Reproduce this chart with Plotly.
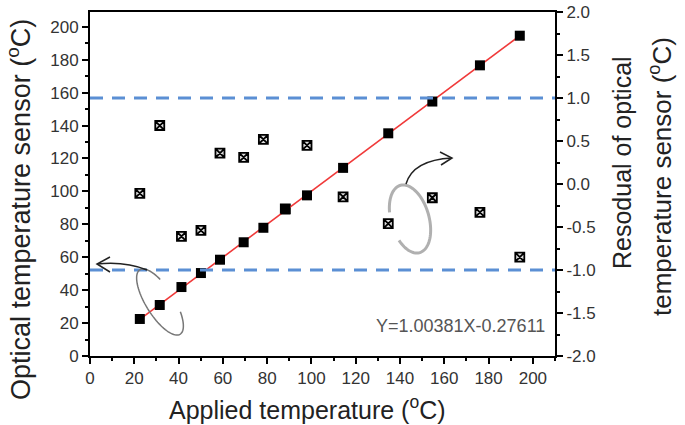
import numpy as np
import plotly.graph_objects as go

# ---- data ----
applied = [22.5, 31.5, 41.3, 50.1, 58.7, 69.4, 78.3, 88.2, 98.0, 114.3, 134.7, 154.6, 176.1, 194.1]
optical = [22.5, 31.0, 41.9, 50.4, 58.5, 69.1, 77.9, 89.1, 97.6, 114.3, 135.3, 154.6, 176.6, 194.6]
residual = [-0.11, 0.68, -0.61, -0.54, 0.36, 0.31, 0.52, -0.29, 0.45, -0.15, -0.46, -0.16, -0.33, -0.85]
fit_slope, fit_icpt = 1.00381, -0.27611
limit_band = [-1.0, 1.0]
x_ticks = list(range(0, 201, 20))
y_ticks = list(range(0, 201, 20))
r_ticks = [-2.0, -1.5, -1.0, -0.5, 0.0, 0.5, 1.0, 1.5, 2.0]
r_ticktext = ["%.1f" % v for v in r_ticks]

W, H = 685, 425
L, R, T, B = 90, 555, 12, 356
FONT = "Liberation Sans, Arial, sans-serif"


def P(px, py):
    return ((px - L) / (R - L), (B - py) / (B - T))


def path_from_pixels(pts):
    s = ""
    for i, (px, py) in enumerate(pts):
        x, y = P(px, py)
        s += ("M" if i == 0 else "L") + "%.5f,%.5f " % (x, y)
    return s


def ellipse_pts(cx, cy, a, b, ux, uy, t0, t1, n=80):
    vx, vy = uy, -ux
    ts = np.radians(np.linspace(t0, t1, n))
    return [(cx + a * np.cos(t) * ux + b * np.sin(t) * vx,
             cy + a * np.cos(t) * uy + b * np.sin(t) * vy) for t in ts]


def qpath(p0, c, p1):
    a, bb, cc = P(*p0), P(*c), P(*p1)
    return "M%.5f,%.5f Q%.5f,%.5f %.5f,%.5f" % (a + bb + cc)


fig = go.Figure()

# residuals (right axis, drawn underneath)
fig.add_trace(go.Scatter(
    x=applied, y=residual, mode="markers", yaxis="y",
    marker=dict(symbol="square-x", size=9, color="#dddddd",
                line=dict(color="black", width=1.8)),
    showlegend=False))

# linear fit line
x_fit = [min(applied), max(applied)]
y_fit = [fit_slope * v + fit_icpt for v in x_fit]
fig.add_trace(go.Scatter(
    x=x_fit, y=y_fit, mode="lines", yaxis="y2",
    line=dict(color="#f03a3a", width=1.6), showlegend=False))

# measured optical temperature
fig.add_trace(go.Scatter(
    x=applied, y=optical, mode="markers", yaxis="y2",
    marker=dict(symbol="square", size=10, color="black"),
    showlegend=False))

shapes = []
for v in limit_band:
    shapes.append(dict(type="line", xref="paper", yref="y", x0=0, x1=1, y0=v, y1=v,
                       line=dict(color="#5b8fd4", width=3, dash="13px,9px"), layer="above"))

# hand-drawn ellipses and arrows
shapes.append(dict(type="path", xref="paper", yref="paper",
                   path=path_from_pixels(ellipse_pts(160, 302, 38, 14, np.cos(np.radians(58)),
                                                     np.sin(np.radians(58)), 120, 420)),
                   line=dict(color="#777777", width=1.5)))
shapes.append(dict(type="path", xref="paper", yref="paper",
                   path=qpath((147, 270), (125, 261), (97, 264)),
                   line=dict(color="#222222", width=1.5)))
shapes.append(dict(type="path", xref="paper", yref="paper",
                   path=path_from_pixels([(110, 257), (97, 264), (110, 272)]),
                   line=dict(color="#222222", width=1.5)))
shapes.append(dict(type="path", xref="paper", yref="paper",
                   path=path_from_pixels(ellipse_pts(410, 219, 35, 19, 0.276, 0.961, -60, 250)),
                   line=dict(color="#b0b0b0", width=3)))
shapes.append(dict(type="path", xref="paper", yref="paper",
                   path=qpath((406, 184), (413, 160), (452, 158)),
                   line=dict(color="#222222", width=1.5)))
shapes.append(dict(type="path", xref="paper", yref="paper",
                   path=path_from_pixels([(440, 152), (452, 158), (441, 165)]),
                   line=dict(color="#222222", width=1.5)))


def ann(text, px, py, size, angle=0, color="#222222"):
    x, y = P(px, py)
    return dict(text=text, x=x, y=y, xref="paper", yref="paper", showarrow=False,
                xanchor="center", yanchor="middle", textangle=angle,
                font=dict(family=FONT, size=size, color=color))


annotations = [
    ann("Y=1.00381X-0.27611", 460, 326, 18, color="#555555"),
    ann("Applied temperature (<sup>o</sup>C)", 307, 408, 25),
    ann("Optical temperature sensor (<sup>o</sup>C)", 19, 210, 27, angle=-90),
    ann("Resodual of optical", 622, 163, 25, angle=-90),
    ann("temperature sensor (<sup>o</sup>C)", 660, 177, 26, angle=-90),
]

axis_common = dict(showline=True, linecolor="black", linewidth=2, ticks="outside",
                   ticklen=6, tickwidth=1.5, tickcolor="black", showgrid=False, zeroline=False,
                   automargin=False,
                   tickfont=dict(family=FONT, size=17, color="#333333"))

fig.update_layout(
    width=W, height=H, margin=dict(l=L, r=W - R, t=T, b=H - B, autoexpand=False),
    paper_bgcolor="white", plot_bgcolor="white",
    font=dict(family=FONT),
    xaxis=dict(range=[0, 210], tickvals=x_ticks, mirror=True,
               minor=dict(dtick=10, ticklen=3, ticks="outside", tickcolor="black", tickwidth=1.5),
               **axis_common),
    yaxis=dict(range=[-2, 2], side="right", tickvals=r_ticks, ticktext=r_ticktext,
               minor=dict(dtick=0.25, ticklen=3, ticks="outside", tickcolor="black", tickwidth=1.5),
               **axis_common),
    yaxis2=dict(range=[0, 209], side="left", overlaying="y", tickvals=y_ticks,
                minor=dict(dtick=10, ticklen=3, ticks="outside", tickcolor="black", tickwidth=1.5),
                **axis_common),
    shapes=shapes, annotations=annotations,
)

fig.write_html("out.html")
